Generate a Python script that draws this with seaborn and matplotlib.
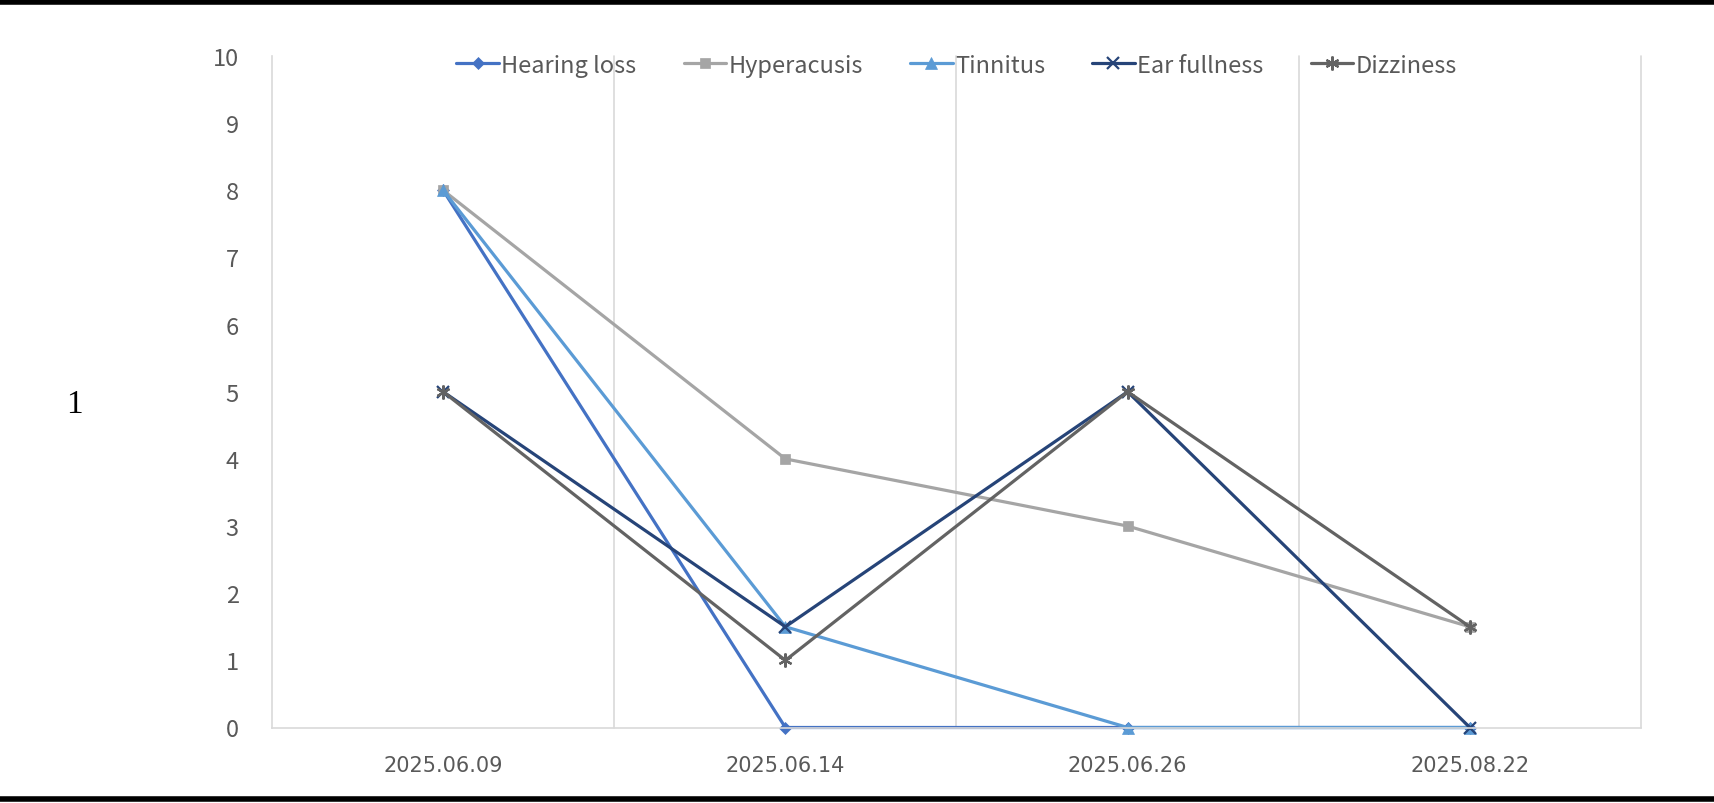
import matplotlib
matplotlib.use("Agg")
import matplotlib.pyplot as plt
import seaborn as sns
import pandas as pd
import numpy as np

dates = ["2025.06.09", "2025.06.14", "2025.06.26", "2025.08.22"]
hearing_loss = [8, 0, 0, 0]
hyperacusis = [8, 4, 3, 1.5]
tinnitus = [8, 1.5, 0, 0]
ear_fullness = [5, 1.5, 5, 0]
dizziness = [5, 1, 5, 1.5]
series_names = ["Hearing loss", "Hyperacusis", "Tinnitus", "Ear fullness", "Dizziness"]
series_values = [hearing_loss, hyperacusis, tinnitus, ear_fullness, dizziness]
y_ticks = list(range(0, 11))

colors = ["#4472C4", "#A5A5A5", "#5B9BD5", "#264478", "#636363"]
markers = ["D", "s", "^", "x", (6, 2, 0)]
msizes = [6.5, 7.5, 8.5, 8.5, 10]

sns.set_theme(style="white")
plt.rcParams['font.family'] = ['Noto Sans CJK KR', 'DejaVu Sans']

fig = plt.figure(figsize=(17.15, 8.04), dpi=100)
ax = fig.add_axes([272/1715, 75.5/804, (1641-272)/1715, (728.5-57)/804])

x_pos = np.arange(len(dates))
for name, vals, c, m, ms in zip(series_names, series_values, colors, markers, msizes):
    df = pd.DataFrame({"x": x_pos, "y": vals})
    sns.lineplot(data=df, x="x", y="y", ax=ax, color=c, marker=m, markersize=ms,
                 markeredgecolor=c, markerfacecolor=c,
                 markeredgewidth=1.6 if m in ("x", (6, 2, 0)) else 0.5,
                 linewidth=2.3, label=name, clip_on=False)

ax.set_xlim(-0.5, len(dates) - 0.5)
ax.set_ylim(0, 10)
ax.set_yticks(y_ticks)
ax.set_yticklabels([str(v) for v in y_ticks], fontsize=17, color="#595959")
ax.set_xticks(x_pos)
ax.set_xticklabels(dates, fontsize=15, color="#595959", family=["DejaVu Sans"])
ax.tick_params(axis="both", length=0)
ax.tick_params(axis="y", pad=24)
ax.tick_params(axis="x", pad=20)
ax.set_xlabel("")
ax.set_ylabel("")

for b in np.arange(0.5, len(dates), 1.0):
    ax.axvline(b, color="#D9D9D9", linewidth=1.2, zorder=0, clip_on=False)
for s in ["top", "right"]:
    ax.spines[s].set_visible(False)
ax.spines["left"].set_color("#D9D9D9")
ax.spines["bottom"].set_color("#D9D9D9")
ax.spines["left"].set_linewidth(1.2)
ax.spines["bottom"].set_linewidth(1.2)

leg = ax.legend(loc="upper center", bbox_to_anchor=(0.5, 1.035), ncol=5, frameon=False,
                fontsize=17, handlelength=1.8, handletextpad=0.1, columnspacing=2.0)
for t in leg.get_texts():
    t.set_color("#595959")

# table borders and row label
fig.add_artist(plt.Line2D([0, 1], [1 - 3/804, 1 - 3/804], color="black", linewidth=4, transform=fig.transFigure))
fig.add_artist(plt.Line2D([0, 1], [1 - 800/804, 1 - 800/804], color="black", linewidth=4, transform=fig.transFigure))
fig.text(74/1715, 1 - 405/804, "1", fontsize=24, family="Liberation Serif", color="black", ha="center", va="center")

fig.savefig("out.png", dpi=100, facecolor="white")
